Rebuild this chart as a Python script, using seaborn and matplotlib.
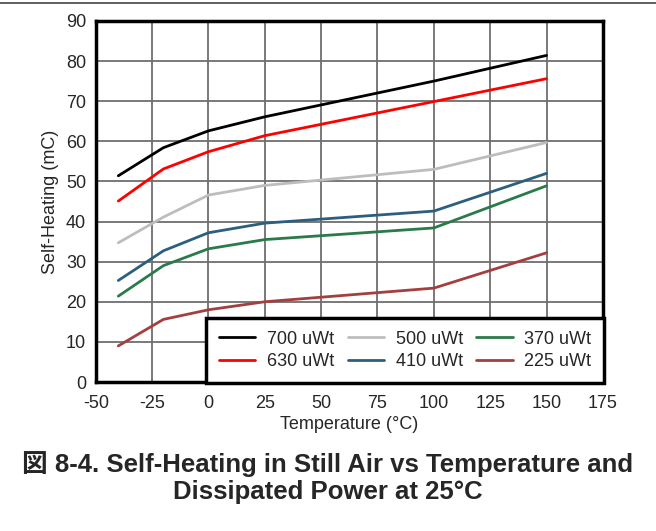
import pandas as pd
import matplotlib.pyplot as plt
import seaborn as sns
from matplotlib.lines import Line2D

# Data
temps = [-40, -20, 0, 25, 100, 150]
p700 = [51.4, 58.4, 62.6, 66.1, 75.0, 81.4]
p630 = [45.1, 53.1, 57.4, 61.4, 69.9, 75.6]
p500 = [34.7, 41.1, 46.6, 49.0, 53.0, 59.7]
p410 = [25.3, 32.7, 37.2, 39.6, 42.6, 52.0]
p370 = [21.4, 29.0, 33.2, 35.5, 38.4, 48.9]
p225 = [9.0, 15.6, 18.0, 20.0, 23.4, 32.2]

series_labels = ["700 uWt", "630 uWt", "500 uWt", "410 uWt", "370 uWt", "225 uWt"]
series_values = [p700, p630, p500, p410, p370, p225]
colors = ["#000000", "#ff0000", "#bdbdbd", "#2c5f7e", "#2b7a4c", "#a33f3f"]

x_ticks = [-50, -25, 0, 25, 50, 75, 100, 125, 150, 175]
y_ticks = [0, 10, 20, 30, 40, 50, 60, 70, 80, 90]

rows = []
for label, vals in zip(series_labels, series_values):
    for t, v in zip(temps, vals):
        rows.append({"temp": t, "heat": v, "power": label})
df = pd.DataFrame(rows)

sns.set_style("white")
plt.rcParams["font.family"] = ["Liberation Sans", "Noto Sans CJK JP", "DejaVu Sans"]
plt.rcParams["axes.unicode_minus"] = False

fig = plt.figure(figsize=(6.56, 5.31), dpi=100)
ax = fig.add_axes([0.146, 0.2806, 0.773, 0.680])

sns.lineplot(data=df, x="temp", y="heat", hue="power", hue_order=series_labels,
             palette=colors, linewidth=2, legend=False, ax=ax, zorder=3)

ax.set_xlim(-50, 175)
ax.set_ylim(0, 90)
ax.set_xticks(x_ticks)
ax.set_yticks(y_ticks)
ax.grid(True, color="#6e6e6e", linewidth=1.3)
ax.tick_params(axis="both", labelsize=13, length=0)
ax.tick_params(axis="x", pad=9)
ax.tick_params(axis="y", pad=7)
for s in ax.spines.values():
    s.set_linewidth(2.5)
    s.set_color("black")
ax.set_xlabel("Temperature (°C)", fontsize=13, labelpad=3)
ax.set_ylabel("Self-Heating (mC)", fontsize=13, labelpad=5)

handles = [Line2D([0], [0], color=c, lw=2) for c in colors]
leg = ax.legend(handles, series_labels, ncol=3, loc="lower right",
                bbox_to_anchor=(1.002, -0.002), borderaxespad=0, fontsize=13,
                frameon=True, fancybox=False, framealpha=1, edgecolor="black",
                handlelength=2.0, columnspacing=0.75, handletextpad=0.65,
                labelspacing=0.3, borderpad=0.7)
leg.get_frame().set_linewidth(2.5)
leg.set_zorder(5)

# separator line at top of the figure
fig.add_artist(Line2D([0, 1], [1 - 3 / 531, 1 - 3 / 531], color="#444444", lw=1.2))

fig.text(0.5, 0.1, "図 8-4. Self-Heating in Still Air vs Temperature and\nDissipated Power at 25°C",
         ha="center", va="center", fontsize=18.5, fontweight="bold", linespacing=1.15)

plt.savefig("out.png", dpi=100)
